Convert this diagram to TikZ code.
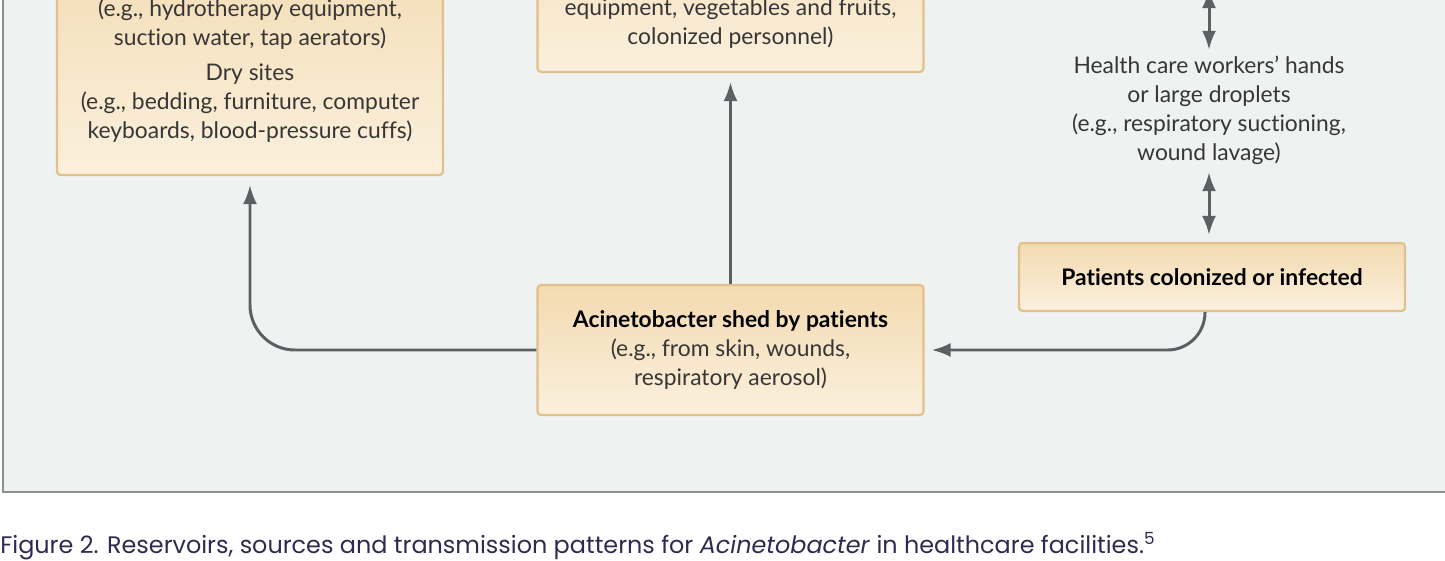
\documentclass[tikz,border=0pt]{standalone}
\usepackage{fontspec}
\usetikzlibrary{arrows.meta}
\newfontfamily\figfont[Ligatures=NoCommon]{Lato}
\newfontfamily\capfont{Poppins}
\definecolor{panelgray}{HTML}{F0F2F2}
\definecolor{framegray}{HTML}{8C8E90}
\definecolor{flowgray}{HTML}{5D6063}
\definecolor{boxtop}{HTML}{F3DAB0}
\definecolor{boxbot}{HTML}{FBF0DD}
\definecolor{boxedge}{HTML}{E0C08B}
\definecolor{txtgray}{HTML}{363636}
\definecolor{capblue}{HTML}{2D2B50}
\begin{document}
\begin{tikzpicture}[>={Latex[length=3.8mm,width=2.8mm]},
  box/.style={draw=boxedge,line width=1.2pt,rounded corners=2pt,top color=boxtop,bottom color=boxbot,minimum width=7.72cm,inner sep=0pt},
  txt/.style={align=center,text=txtgray,inner sep=0pt,font=\figfont\fontsize{13}{16.5}\selectfont},
  flow/.style={draw=flowgray,line width=1.7pt,->},
  dflow/.style={draw=flowgray,line width=1.7pt,<->}]
\useasboundingbox (0,0) rectangle (28.9,-11.2);
\begin{scope}
\clip (0,0) rectangle (28.9,-11.2);
% panel
\fill[panelgray] (0.06,0.5) rectangle (29.5,-9.84);
\draw[framegray,line width=1.3pt] (0.06,0.5) |- (29.5,-9.84);
% boxes
\node[box,minimum height=5cm,anchor=south] (reservoir) at (5.0,-3.52) {};
\node[txt] (reservoirtxt) at (5.0,-1.42) {(e.g., hydrotherapy equipment,\\suction water, tap aerators)\\[3.5pt]Dry sites\\(e.g., bedding, furniture, computer\\keyboards, blood-pressure cuffs)};
\node[box,minimum height=4cm,anchor=south] (tools) at (14.61,-1.46) {};
\node[txt] (toolstxt) at (14.61,-0.48) {equipment, vegetables and fruits,\\colonized personnel)};
\node[txt] (workers) at (24.18,-2.21) {Health care workers’ hands\\or large droplets\\(e.g., respiratory suctioning,\\wound lavage)};
\node[box,minimum height=1.36cm] (patients) at (24.24,-5.54) {};
\node[txt,text=black] (patientstxt) at (patients) {\bfseries Patients colonized or infected};
\node[box,minimum height=2.6cm] (acine) at (14.61,-7.0) {};
\node[txt] (acinetxt) at (acine) {{\bfseries\color{black}Acinetobacter shed by patients}\\(e.g., from skin, wounds,\\respiratory aerosol)};
% connectors
\coordinate (topend) at (24.18,0.22);
\draw[dflow] (topend) -- ([yshift=1.2mm]workers.north);
\draw[dflow,shorten <=1.4mm,shorten >=1.4mm] (workers.south) -- (patients.north -| workers.south);
\draw[flow,shorten >=1.8mm] (acine.north) -- (tools.south);
\draw[flow,rounded corners=9mm,shorten >=1.8mm] (acine.west) -| (reservoir.south);
\draw[flow,rounded corners=7.5mm,shorten >=1.4mm] ([xshift=-1.4mm]patients.south) |- (acine.east);
% caption
\node[anchor=base west,inner sep=0pt,text=capblue,font=\capfont\fontsize{13.6}{15}\selectfont] (caption) at (0,-11.07) {Figure 2. Reservoirs, sources and transmission patterns for \textit{Acinetobacter} in healthcare facilities.\textsuperscript{5}};
\end{scope}
\end{tikzpicture}
\end{document}
